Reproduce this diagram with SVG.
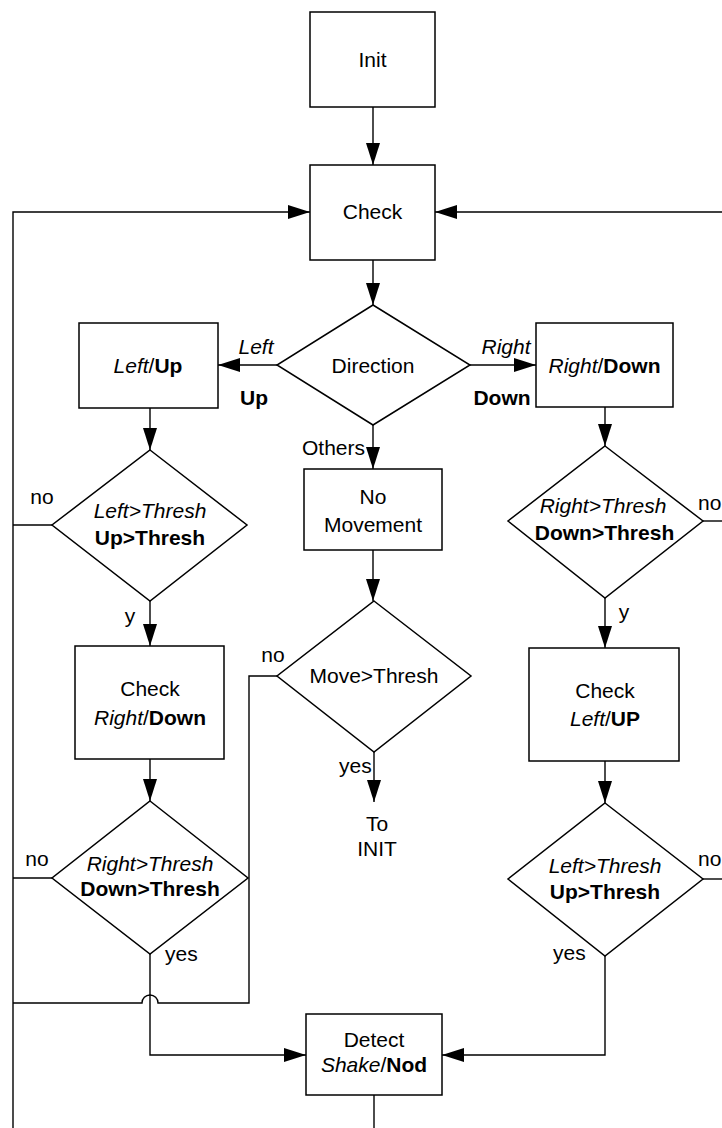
<svg xmlns="http://www.w3.org/2000/svg" width="722" height="1128" viewBox="0 0 722 1128">
  <style>
    .box { fill: #fff; stroke: #000; stroke-width: 1.5; }
    .wire { fill: none; stroke: #000; stroke-width: 1.4; }
    text { font-family: "Liberation Sans", Arial, sans-serif; font-size: 21px; fill: #000; }
    .c { text-anchor: middle; }
    .i { font-style: italic; }
    .b { font-weight: bold; }
  </style>
  <defs>
    <marker id="arrow" markerUnits="userSpaceOnUse" markerWidth="22" markerHeight="14" refX="22" refY="7" orient="auto">
      <path d="M0,0 L22,7 L0,14 z" fill="#000"/>
    </marker>
  </defs>
  <rect width="722" height="1128" fill="#fff"/>

  <!-- connectors -->
  <g id="connectors" class="wire">
    <line x1="373" y1="107" x2="373" y2="165" marker-end="url(#arrow)"/>
    <line x1="373" y1="260" x2="373" y2="305" marker-end="url(#arrow)"/>
    <line x1="277" y1="365" x2="218" y2="365" marker-end="url(#arrow)"/>
    <line x1="470" y1="365" x2="536" y2="365" marker-end="url(#arrow)"/>
    <line x1="373" y1="425" x2="373" y2="469" marker-end="url(#arrow)"/>
    <line x1="373" y1="550" x2="373" y2="601" marker-end="url(#arrow)"/>
    <line x1="374" y1="752" x2="374" y2="802" marker-end="url(#arrow)"/>
    <!-- left column -->
    <line x1="150" y1="408" x2="150" y2="450" marker-end="url(#arrow)"/>
    <line x1="150" y1="601" x2="150" y2="646" marker-end="url(#arrow)"/>
    <line x1="150" y1="759" x2="150" y2="801" marker-end="url(#arrow)"/>
    <line x1="52" y1="525" x2="13" y2="525"/>
    <line x1="52" y1="878" x2="13" y2="878"/>
    <polyline points="150,954 150,1055 306,1055" marker-end="url(#arrow)"/>
    <!-- feedback loops into Check -->
    <polyline points="13,1128 13,212 310,212" marker-end="url(#arrow)"/>
    <line x1="722" y1="212" x2="435" y2="212" marker-end="url(#arrow)"/>
    <!-- right column -->
    <line x1="605" y1="407" x2="605" y2="446" marker-end="url(#arrow)"/>
    <line x1="605" y1="598" x2="605" y2="648" marker-end="url(#arrow)"/>
    <line x1="605" y1="761" x2="605" y2="803" marker-end="url(#arrow)"/>
    <line x1="703" y1="521" x2="722" y2="521"/>
    <line x1="703" y1="879" x2="722" y2="879"/>
    <polyline points="605,956 605,1055 442,1055" marker-end="url(#arrow)"/>
    <!-- Move>Thresh "no" branch, hopping over the yes line -->
    <path d="M277,676 H249 V1003 H158 A8,8 0 0 0 142,1003 H13"/>
    <!-- Detect output -->
    <line x1="374" y1="1095" x2="374" y2="1128"/>
  </g>

  <!-- nodes -->
  <g id="init">
    <rect class="box" x="310" y="12" width="125" height="95"/>
    <text class="c" x="372.5" y="67">Init</text>
  </g>
  <g id="check">
    <rect class="box" x="310" y="165" width="125" height="95"/>
    <text class="c" x="372.5" y="219">Check</text>
  </g>
  <g id="direction">
    <polygon class="box" points="373,305 470,365 373,425 277,365"/>
    <text class="c" x="373" y="373">Direction</text>
  </g>
  <g id="left-up">
    <rect class="box" x="79" y="323" width="139" height="85"/>
    <text class="c" x="148" y="373"><tspan class="i">Left</tspan>/<tspan class="b">Up</tspan></text>
  </g>
  <g id="right-down">
    <rect class="box" x="536" y="323" width="137" height="84"/>
    <text class="c" x="604.5" y="373"><tspan class="i">Right</tspan>/<tspan class="b">Down</tspan></text>
  </g>
  <g id="left-thresh-1">
    <polygon class="box" points="150,450 247,525 150,601 52,525"/>
    <text class="c i" x="150" y="518">Left&gt;Thresh</text>
    <text class="c b" x="150" y="545">Up&gt;Thresh</text>
  </g>
  <g id="check-right-down">
    <rect class="box" x="75" y="646" width="149" height="113"/>
    <text class="c" x="150" y="696">Check</text>
    <text class="c" x="150" y="725"><tspan class="i">Right</tspan>/<tspan class="b">Down</tspan></text>
  </g>
  <g id="right-thresh-2">
    <polygon class="box" points="150,801 248,878 150,954 52,878"/>
    <text class="c i" x="150" y="871">Right&gt;Thresh</text>
    <text class="c b" x="150" y="896">Down&gt;Thresh</text>
  </g>
  <g id="no-movement">
    <rect class="box" x="304" y="469" width="138" height="81"/>
    <text class="c" x="373" y="504">No</text>
    <text class="c" x="373" y="532">Movement</text>
  </g>
  <g id="move-thresh">
    <polygon class="box" points="374,601 471,676 374,752 277,676"/>
    <text class="c" x="374" y="683">Move&gt;Thresh</text>
  </g>
  <g id="to-init">
    <text class="c" x="377" y="831">To</text>
    <text class="c" x="377" y="856">INIT</text>
  </g>
  <g id="right-thresh-1">
    <polygon class="box" points="605,446 703,521 605,598 508,521"/>
    <text class="c i" x="603" y="513">Right&gt;Thresh</text>
    <text class="c b" x="604.5" y="540">Down&gt;Thresh</text>
  </g>
  <g id="check-left-up">
    <rect class="box" x="529" y="648" width="150" height="113"/>
    <text class="c" x="605" y="698">Check</text>
    <text class="c" x="605" y="726"><tspan class="i">Left</tspan>/<tspan class="b">UP</tspan></text>
  </g>
  <g id="left-thresh-2">
    <polygon class="box" points="605,803 703,879 605,956 508,879"/>
    <text class="c i" x="605" y="873">Left&gt;Thresh</text>
    <text class="c b" x="605" y="899">Up&gt;Thresh</text>
  </g>
  <g id="detect">
    <rect class="box" x="306" y="1014" width="136" height="81"/>
    <text class="c" x="374" y="1047">Detect</text>
    <text class="c" x="374" y="1072"><tspan class="i">Shake</tspan>/<tspan class="b">Nod</tspan></text>
  </g>

  <!-- branch labels -->
  <g id="labels">
    <text class="c i" x="256" y="354">Left</text>
    <text class="c b" x="254" y="405">Up</text>
    <text class="c i" x="506" y="354">Right</text>
    <text class="c b" x="502" y="405">Down</text>
    <text x="365" y="455" style="text-anchor:end">Others</text>
    <text class="c" x="42" y="504">no</text>
    <text class="c" x="130" y="623">y</text>
    <text class="c" x="37" y="866">no</text>
    <text x="165" y="961">yes</text>
    <text class="c" x="273" y="662">no</text>
    <text x="339" y="773">yes</text>
    <text x="553" y="960">yes</text>
    <text class="c" x="624" y="619">y</text>
    <text x="698" y="510">no</text>
    <text x="698" y="866">no</text>
  </g>
</svg>
